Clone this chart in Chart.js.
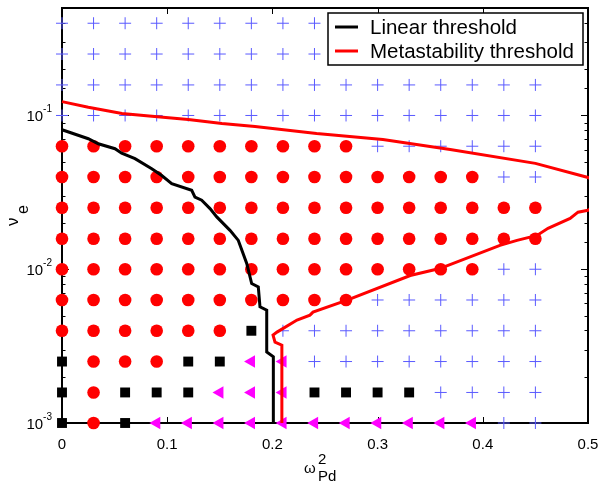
<!DOCTYPE html>
<html>
<head>
<meta charset="utf-8">
<script src="https://cdn.jsdelivr.net/npm/chart.js@4"></script>
<style>
  html, body { margin: 0; padding: 0; background: #fff; }
</style>
</head>
<body>
<canvas id="myChart" width="600" height="487"></canvas>
<script>
// simulation grid
var gridX = [0, 0.03, 0.06, 0.09, 0.12, 0.15, 0.18, 0.21, 0.24, 0.27, 0.30, 0.33, 0.36, 0.39, 0.42, 0.45];
var gridY = [0.001, 0.00158, 0.00251, 0.00398, 0.00631, 0.01, 0.0158, 0.0251, 0.0398, 0.0631, 0.1, 0.158, 0.251, 0.398];
// one string per row, bottom row first
// C = red circle, S = black square, T = magenta triangle, + = blue cross
var gridCodes = [
  "SCSTTTTTTTTTTT++",
  "SCSSSTTTSSSS++++",
  "SCCCSSTT++++++++",
  "CCCCCCS+++++++++",
  "CCCCCCCCCC++++++",
  "CCCCCCCCCCCCCC++",
  "CCCCCCCCCCCCCCCC",
  "CCCCCCCCCCCCCCCC",
  "CCCCCCCCCCCCCC++",
  "CCCCCCCCCC++++++",
  "++++++++++++++++",
  "++++++++++++++++",
  "++++++++++++++++",
  "++++++++++++++++"
];

// threshold curves
var linearX = [0, 0.025, 0.0345, 0.0504, 0.0567, 0.0694, 0.0853, 0.0948, 0.1043, 0.1233, 0.1264, 0.1328, 0.1407, 0.1471, 0.1597, 0.1676, 0.1756, 0.1803, 0.1866, 0.1882, 0.1946, 0.1946, 0.2009, 0.2009];
var linearY = [0.0807, 0.0706, 0.0655, 0.0608, 0.0569, 0.0524, 0.0451, 0.0407, 0.036, 0.0326, 0.0294, 0.0281, 0.0248, 0.0219, 0.0179, 0.0154, 0.0109, 0.00807, 0.00767, 0.00569, 0.00542, 0.0029, 0.0027, 0.001];

var metaX = [0, 0.025, 0.057, 0.088, 0.12, 0.152, 0.1835, 0.242, 0.305, 0.369, 0.45, 0.5, 0.53, 0.5, 0.4905, 0.483, 0.462, 0.4515, 0.4325, 0.4163, 0.359, 0.331, 0.271, 0.2386, 0.2357, 0.2234, 0.2044, 0.2006, 0.2025, 0.209, 0.209];
var metaY = [0.123, 0.113, 0.103, 0.0986, 0.0942, 0.0887, 0.0849, 0.0764, 0.0698, 0.0601, 0.0488, 0.0395, 0.03, 0.0242, 0.0235, 0.0214, 0.01845, 0.0166, 0.0154, 0.0143, 0.0101, 0.0091, 0.0063, 0.00526, 0.00503, 0.00467, 0.0039, 0.00373, 0.00336, 0.00321, 0.001];

var xTickLabels = ['0', '0.1', '0.2', '0.3', '0.4', '0.5'];
var yTickValues = [0.001, 0.01, 0.1];
var yTickExps = ['-3', '-2', '-1'];

var FONT = "'Liberation Sans', Arial, sans-serif";
Chart.defaults.font.family = FONT;
Chart.defaults.font.size = 15;
Chart.defaults.color = '#000';

function pointsFor(code) {
  var pts = [];
  for (var r = 0; r < gridY.length; r++) {
    for (var c = 0; c < gridX.length; c++) {
      if (gridCodes[r][c] === code) pts.push({x: gridX[c], y: gridY[r]});
    }
  }
  return pts;
}

function zip(xs, ys) {
  return xs.map(function (x, i) { return {x: x, y: ys[i]}; });
}

var boxPlugin = {
  id: 'box',
  beforeDatasetsDraw: function (chart) {
    var ctx = chart.ctx, a = chart.chartArea;
    var xs = chart.scales.x, ys = chart.scales.y;
    ctx.save();
    ctx.strokeStyle = '#000';
    ctx.lineWidth = 1;
    ctx.beginPath();
    xs.ticks.forEach(function (t) {
      var px = Math.round(xs.getPixelForValue(t.value)) + 0.5;
      ctx.moveTo(px, a.bottom); ctx.lineTo(px, a.bottom - 6);
      ctx.moveTo(px, a.top); ctx.lineTo(px, a.top + 6);
    });
    ys.ticks.forEach(function (t) {
      var lg = Math.log10(t.value);
      var len = Math.abs(lg - Math.round(lg)) < 1e-6 ? 7 : 3.5;
      var py = Math.round(ys.getPixelForValue(t.value)) + 0.5;
      ctx.moveTo(a.left, py); ctx.lineTo(a.left + len, py);
      ctx.moveTo(a.right, py); ctx.lineTo(a.right - len, py);
    });
    ctx.stroke();
    ctx.lineWidth = 2;
    ctx.strokeRect(a.left, a.top, a.right - a.left, a.bottom - a.top);
    ctx.restore();
  },
  afterDraw: function (chart) {
    var ctx = chart.ctx, a = chart.chartArea, ys = chart.scales.y;
    ctx.save();
    ctx.fillStyle = '#000';
    ctx.textBaseline = 'alphabetic';
    // y tick labels 10^n
    yTickValues.forEach(function (v, i) {
      var py = ys.getPixelForValue(v);
      ctx.textAlign = 'right';
      ctx.font = '10px ' + FONT;
      var ew = ctx.measureText(yTickExps[i]).width;
      ctx.fillText(yTickExps[i], a.left - 10, py - 3);
      ctx.font = '15px ' + FONT;
      ctx.fillText('10', a.left - 10 - ew, py + 6);
    });
    ctx.textAlign = 'left';
    // x label: omega^2_Pd
    ctx.font = '15px ' + FONT;
    ctx.fillText('\u03C9', 304, 473);
    ctx.fillText('2', 318, 464);
    ctx.fillText('Pd', 318, 481);
    // y label: nu_e
    ctx.translate(18, 226);
    ctx.rotate(-Math.PI / 2);
    ctx.font = '17px ' + FONT;
    ctx.fillText('\u03BD', 0, 0);
    ctx.font = '16px ' + FONT;
    ctx.fillText('e', 12, 10);
    ctx.restore();

    // legend box
    var lines = chart.data.datasets.filter(function (d) { return d.showLine; });
    var w = 255, h = 52;
    var lx = a.right - 5 - w, ly = a.top + 5;
    ctx.save();
    ctx.fillStyle = '#fff';
    ctx.fillRect(lx, ly, w, h);
    ctx.strokeStyle = '#000';
    ctx.lineWidth = 1.5;
    ctx.strokeRect(lx, ly, w, h);
    ctx.font = '20.5px ' + FONT;
    ctx.textBaseline = 'middle';
    lines.forEach(function (d, i) {
      var yy = ly + 14 + i * 24;
      ctx.strokeStyle = d.borderColor;
      ctx.lineWidth = 3;
      ctx.beginPath();
      ctx.moveTo(lx + 7, yy); ctx.lineTo(lx + 30, yy);
      ctx.stroke();
      ctx.fillStyle = '#000';
      ctx.fillText(d.label, lx + 42, yy + 1);
    });
    ctx.restore();
  }
};

var markerBase = {showLine: false, clip: false, pointBorderWidth: 0};

var data = {
  datasets: [
    {label: 'Linear threshold', data: zip(linearX, linearY), showLine: true, borderColor: '#000', borderWidth: 3, pointRadius: 0, clip: 1},
    {label: 'Metastability threshold', data: zip(metaX, metaY), showLine: true, borderColor: '#ff0000', borderWidth: 3, pointRadius: 0, clip: 1},
    Object.assign({data: pointsFor('C'), pointStyle: 'circle', pointRadius: 6.3, backgroundColor: '#ff0000', borderColor: '#ff0000'}, markerBase),
    Object.assign({data: pointsFor('S'), pointStyle: 'rect', pointRadius: 7, backgroundColor: '#000', borderColor: '#000'}, markerBase),
    Object.assign({data: pointsFor('T'), pointStyle: 'triangle', rotation: -90, pointRadius: 7.3, backgroundColor: '#ff00ff', borderColor: '#ff00ff'}, markerBase),
    {data: pointsFor('+'), showLine: false, clip: false, pointStyle: 'cross', pointRadius: 6, borderColor: '#5a5aff', pointBorderWidth: 1, borderWidth: 1}
  ]
};

var config = {
  type: 'scatter',
  data: data,
  options: {
    responsive: false,
    animation: false,
    devicePixelRatio: 1,
    layout: {padding: {top: 8, right: 12, left: 0, bottom: 0}},
    plugins: {legend: {display: false}, tooltip: {enabled: false}},
    scales: {
      x: {
        type: 'linear', min: 0, max: 0.5,
        grid: {display: false, drawTicks: false},
        border: {display: false},
        ticks: {
          stepSize: 0.1, padding: 13, maxRotation: 0,
          callback: function (v, i) { return xTickLabels[i]; }
        },
        afterFit: function (s) { s.height = 64; s.paddingLeft = 0; s.paddingRight = 0; }
      },
      y: {
        type: 'logarithmic', min: 0.001, max: 0.5,
        grid: {display: false, drawTicks: false},
        border: {display: false},
        ticks: {display: false, autoSkip: false},
        afterFit: function (s) { s.width = 62; s.paddingTop = 0; s.paddingBottom = 0; }
      }
    }
  },
  plugins: [boxPlugin]
};

const myChart = new Chart(document.getElementById('myChart'), config);
</script>
</body>
</html>
